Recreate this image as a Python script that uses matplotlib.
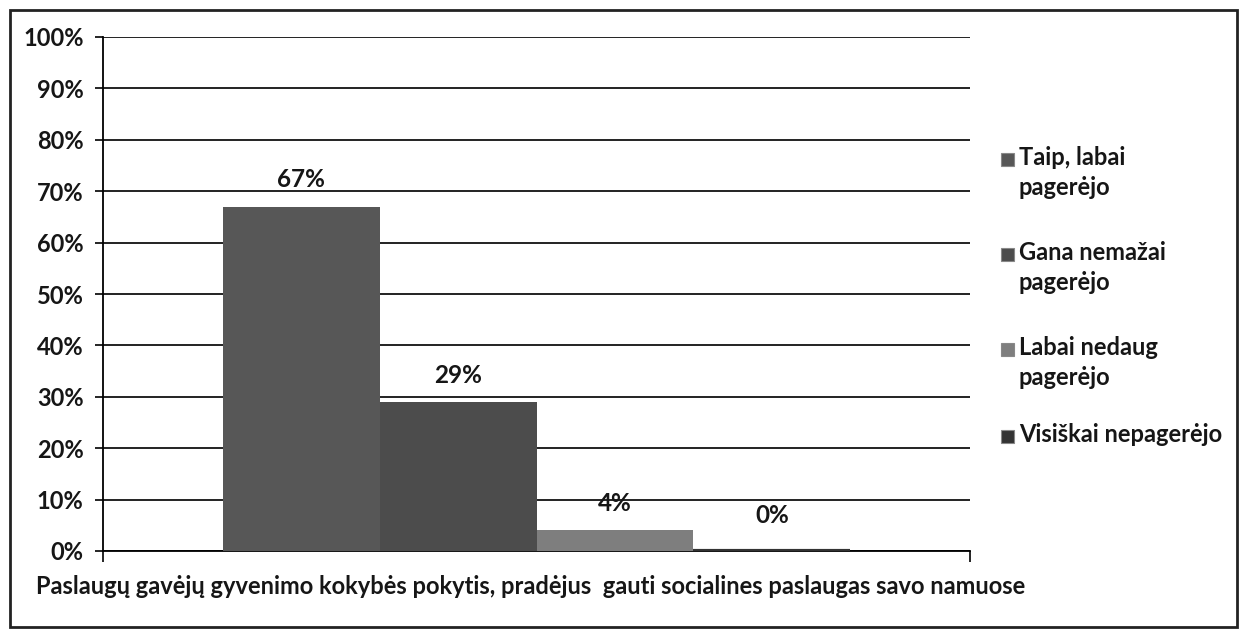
import matplotlib
matplotlib.use("Agg")
import matplotlib.pyplot as plt
from matplotlib.patches import Rectangle

plt.rcParams['font.family'] = ['Lato', 'DejaVu Sans']

# duomenys
kategorija = 'Paslaugų gavėjų gyvenimo kokybės pokytis, pradėjus  gauti socialines paslaugas savo namuose'
serijos = ['Taip, labai\npagerėjo', 'Gana nemažai\npagerėjo', 'Labai nedaug\npagerėjo', 'Visiškai nepagerėjo']
reiksmes = [67, 29, 4, 0]
etiketes = ['67%', '29%', '4%', '0%']
spalvos = ['#575757', '#4c4c4c', '#7e7e7e', '#333333']
yticks = [0, 10, 20, 30, 40, 50, 60, 70, 80, 90, 100]

FS = 17
FW = 'bold'
TC = '#161616'

fig = plt.figure(figsize=(12.47, 6.31), dpi=100)
fig.patch.set_facecolor('white')

# remelis aplink visa diagrama
fig.add_artist(Rectangle((10 / 1247, 1 - 627 / 631), 1227 / 1247, 617 / 631,
                         transform=fig.transFigure, fill=False, edgecolor='#222222', linewidth=2))

ax = fig.add_axes([103 / 1247, 1 - 551 / 631, 867 / 1247, 514 / 631])

plotis = 0.181
for i, (v, sp) in enumerate(zip(reiksmes, spalvos)):
    x = (i - 1.5) * plotis
    ax.bar(x, v, width=plotis, color=sp, edgecolor=sp, linewidth=3 if v == 0 else 0, zorder=3)
    ax.annotate(etiketes[i], (x, v), xytext=(0, 11 if v > 0 else 17), textcoords='offset points',
                ha='center', va='bottom', fontsize=FS + 0.5, fontweight=FW, color=TC, zorder=4)

ax.set_xlim(-0.5, 0.5)
ax.set_ylim(0, 100)
ax.set_yticks(yticks)
ax.set_yticklabels([f'{t}%' for t in yticks], fontsize=FS, fontweight=FW, color=TC)
ax.yaxis.grid(True, color='#111111', linewidth=1.3)
ax.set_axisbelow(True)
ax.set_xticks([-0.5, 0.5])
ax.set_xticklabels(['', ''])
ax.tick_params(axis='x', length=8, width=1.2, direction='out')
ax.tick_params(axis='y', length=6, width=1.2, pad=8)
for s in ['top', 'right']:
    ax.spines[s].set_visible(False)
ax.spines['left'].set_linewidth(1.3)
ax.spines['bottom'].set_linewidth(1.3)

fig.text(531 / 1247, 1 - 586 / 631, kategorija, ha='center', va='center',
         fontsize=FS, fontweight=FW, color=TC)

# legenda
leg_y = [160, 255, 350, 437]
for lbl, sp, y in zip(serijos, spalvos, leg_y):
    fig.add_artist(Rectangle((1001 / 1247, 1 - (y + 6) / 631), 13 / 1247, 13 / 631,
                             transform=fig.transFigure, facecolor=sp, edgecolor='#888888', linewidth=0.8))
    fig.text(1019 / 1247, 1 - (y - 14) / 631, lbl, ha='left', va='top', fontsize=FS,
             fontweight=FW, color=TC, linespacing=1.35)

fig.savefig('out.png', dpi=100)
